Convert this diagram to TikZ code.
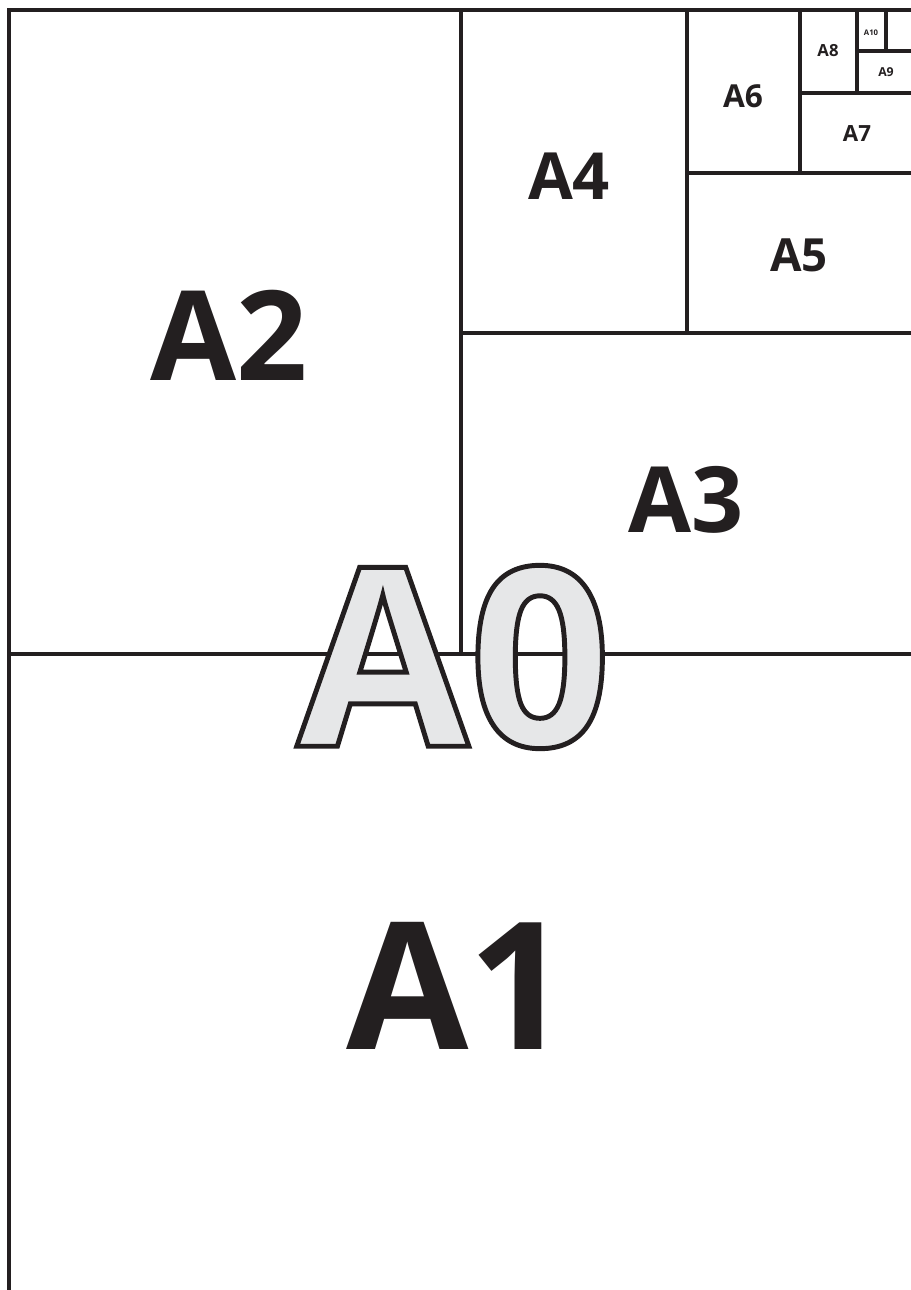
\documentclass[tikz,border=0pt]{standalone}
\usepackage{fontspec}
\setmainfont{Open Sans}
\usetikzlibrary{positioning}
\definecolor{ink}{HTML}{231F20}
\definecolor{paper}{HTML}{E6E7E8}
\tikzset{
  cut/.style={line width=1.8pt,draw=ink,line cap=rect},
  size/.style={text=ink,inner sep=0pt},
  big/.style={size,text=paper}
}

\begin{document}
\begin{tikzpicture}[x=0.02cm,y=-0.02cm]
  \useasboundingbox (0,0) rectangle (911,1290);
  % sheet halved again and again
  \draw[cut,line width=2pt] (9,1290) -- (9,10) -- (911,10);
  \draw[cut] (9,654) -- (911,654);
  \draw[cut] (461,10) -- (461,654);
  \draw[cut] (461,333) -- (911,333);
  \draw[cut] (687,10) -- (687,333);
  \draw[cut] (687,173) -- (911,173);
  \draw[cut] (800,10) -- (800,173);
  \draw[cut] (800,93) -- (911,93);
  \draw[cut] (857,10) -- (857,93);
  \draw[cut] (857,51) -- (911,51);
  \draw[cut] (886,10) -- (886,51);
  % labels
  \node[size,font=\bfseries\fontsize{101}{101}\selectfont] (a1) at (458,986) {A1};
  \node[size,font=\bfseries\fontsize{71}{71}\selectfont] (a2) at (229,335) {A2};
  \node[size,font=\bfseries\fontsize{52}{52}\selectfont] (a3) at (686,500) {A3};
  \node[size,font=\bfseries\fontsize{37}{37}\selectfont] (a4) at (569,176) {A4};
  \node[size,font=\bfseries\fontsize{26}{26}\selectfont] (a5) at (799,255) {A5};
  \node[size,font=\bfseries\fontsize{18}{18}\selectfont] (a6) at (743,96) {A6};
  \node[size,font=\bfseries\fontsize{12.7}{13}\selectfont] (a7) at (857,134) {A7};
  \node[size,font=\bfseries\fontsize{9.5}{10}\selectfont] (a8) at (828,51) {A8};
  \node[size,font=\bfseries\fontsize{7}{8}\selectfont] (a9) at (886,72) {A9};
  \node[size,font=\bfseries\fontsize{4.4}{5}\selectfont] (a10) at (871,33) {A10};
  % outlined A0 on top
  \node[big,font=\bfseries\fontsize{142}{142}\selectfont] (a0) at (454,657)
    {\special{pdf:literal direct 2 Tr 2.8 w 0.137 0.122 0.125 RG}A0\special{pdf:literal direct 0 Tr}};
\end{tikzpicture}
\end{document}
